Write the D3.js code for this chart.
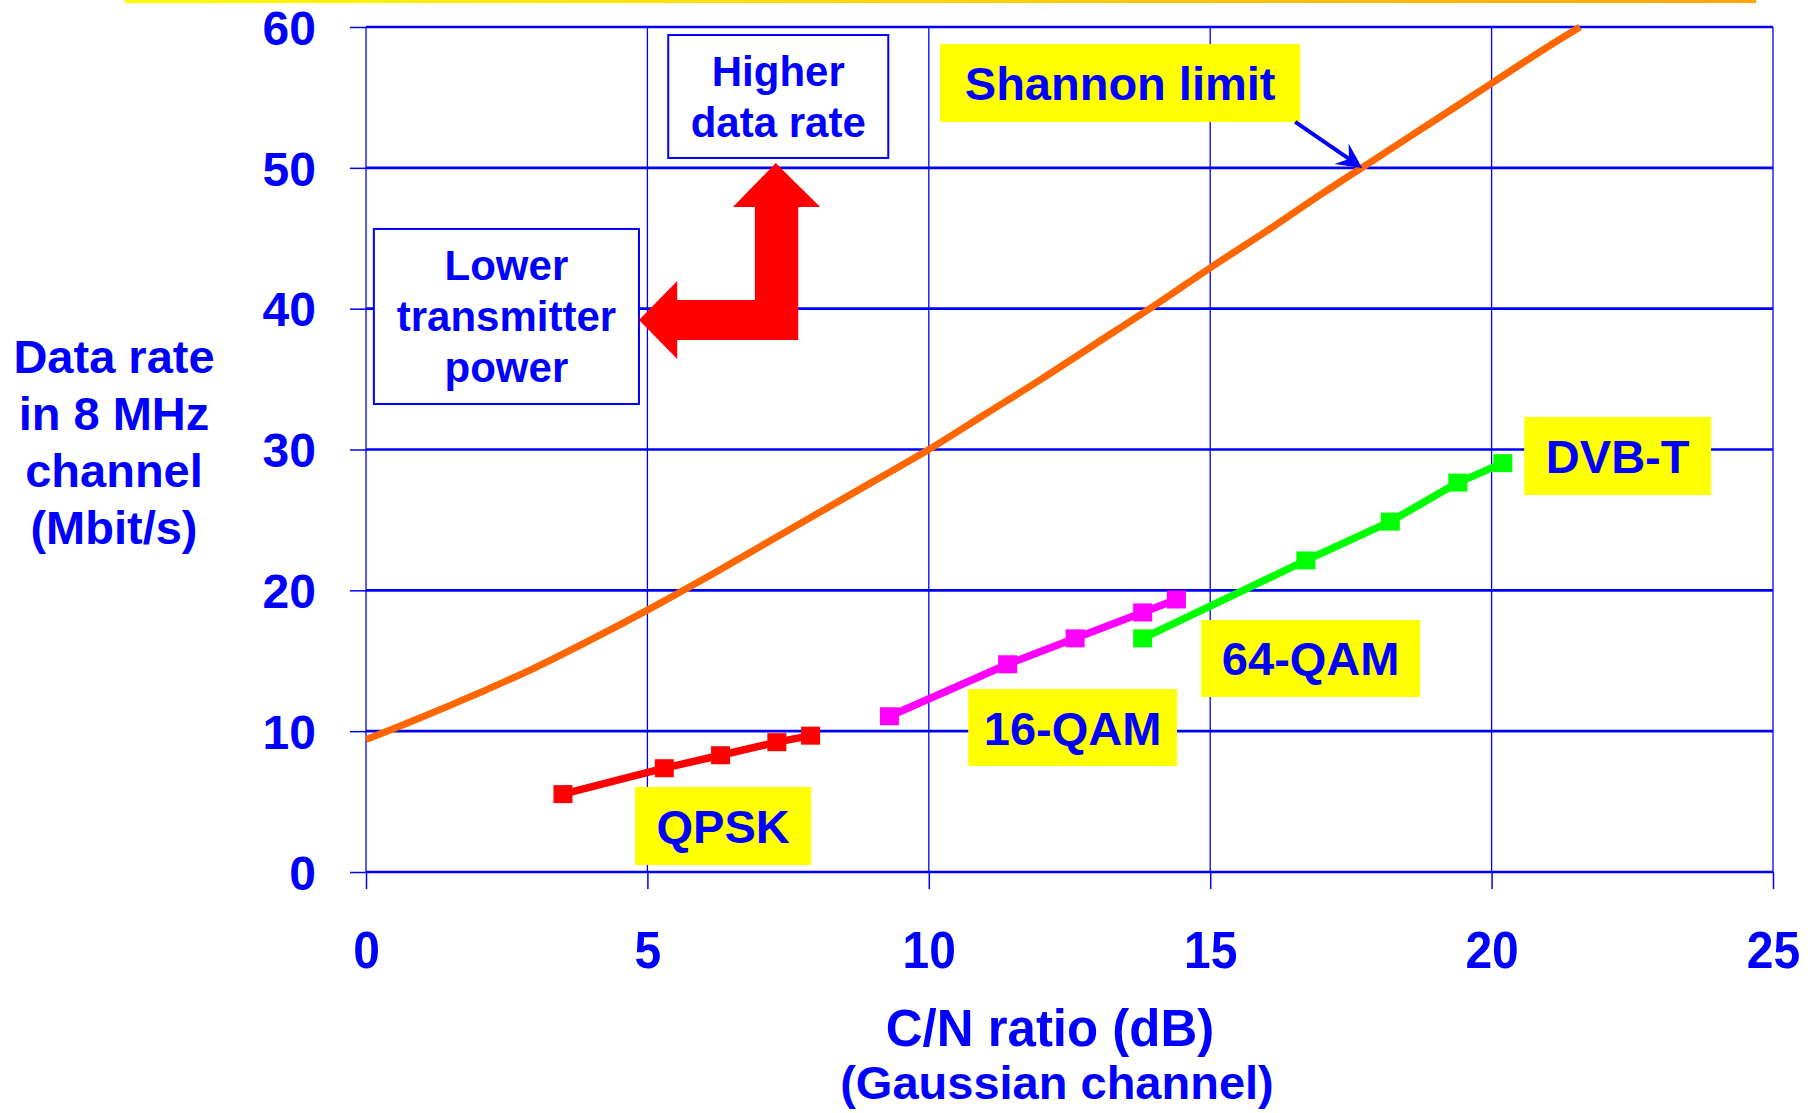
<!DOCTYPE html>
<html><head><meta charset="utf-8">
<script src="https://cdn.jsdelivr.net/npm/d3@7"></script>
<style>
html,body{margin:0;padding:0;background:#fff;}
svg{display:block;}
text{font-family:"Liberation Sans", Arial, Helvetica, sans-serif;font-weight:bold;fill:#0000ff;}
</style></head><body>
<svg id="chart" width="1817" height="1113"></svg>
<script>
// ---------- data ----------
const xTicks = [0, 5, 10, 15, 20, 25];
const yTicks = [0, 10, 20, 30, 40, 50, 60];
const shannonCN   = [0, 1, 2, 3, 4, 5, 6, 7, 8, 9, 10, 11, 12, 13, 14, 15, 16, 17, 18, 19, 20, 21, 21.57];
const shannonRate = [9.4, 11.0, 12.7, 14.5, 16.5, 18.6, 20.8, 23.1, 25.4, 27.7, 30.0, 32.5, 35.0, 37.6, 40.2, 42.9, 45.5, 48.2, 50.8, 53.4, 56.0, 58.6, 60.0];
const qpskCN    = [3.5, 5.3, 6.3, 7.3, 7.9];
const qpskRate  = [5.53, 7.37, 8.29, 9.22, 9.68];
const qam16CN   = [9.3, 11.4, 12.6, 13.8, 14.4];
const qam16Rate = [11.06, 14.75, 16.59, 18.43, 19.35];
const qam64CN   = [13.8, 16.7, 18.2, 19.4, 20.2];
const qam64Rate = [16.59, 22.12, 24.88, 27.65, 29.03];
const seriesNames = ["QPSK", "16-QAM", "64-QAM", "DVB-T"];
const curveName = "Shannon limit";
const yTitle = ["Data rate", "in 8 MHz", "channel", "(Mbit/s)"];
const xTitle = "C/N ratio (dB)";
const xSubtitle = "(Gaussian channel)";
const noteUp = ["Higher", "data rate"];
const noteLeft = ["Lower", "transmitter", "power"];

// ---------- layout ----------
const svg = d3.select("#chart");
const x = d3.scaleLinear().domain([0, 25]).range([366, 1773]);
const y = d3.scaleLinear().domain([0, 60]).range([872, 27]);
const BLUE = "#0000ff";

// top bar (yellow -> orange)
const defs = svg.append("defs");
const grad = defs.append("linearGradient").attr("id", "topbar").attr("x1", "0").attr("x2", "1");
grad.append("stop").attr("offset", "0").attr("stop-color", "#ffff00");
grad.append("stop").attr("offset", "1").attr("stop-color", "#ffa500");
svg.append("rect").attr("x", 125).attr("y", 0).attr("width", 1631).attr("height", 3).attr("fill", "url(#topbar)");

// gridlines
const grid = svg.append("g");
grid.selectAll(".hg").data(yTicks).join("line")
  .attr("x1", x(0)).attr("x2", x(25)).attr("y1", d => y(d)).attr("y2", d => y(d))
  .attr("stroke", BLUE).attr("stroke-width", 2.6);
grid.selectAll(".vg").data(xTicks).join("line")
  .attr("y1", y(60)).attr("y2", y(0)).attr("x1", d => x(d)).attr("x2", d => x(d))
  .attr("stroke", BLUE).attr("stroke-width", 1.3);

// axes
const yAxis = svg.append("g").attr("transform", `translate(${x(0)},0)`)
  .call(d3.axisLeft(y).tickValues(yTicks).tickSize(16).tickPadding(34).tickFormat(d3.format("d")));
const xAxis = svg.append("g").attr("transform", `translate(0,${y(0)})`)
  .call(d3.axisBottom(x).tickValues(xTicks).tickSize(17).tickFormat(d3.format("d")));
[yAxis, xAxis].forEach(g => {
  g.select(".domain").remove();
  g.selectAll(".tick line").attr("stroke", BLUE).attr("stroke-width", 1.5);
  g.selectAll("text").attr("fill", BLUE);
});
yAxis.selectAll("text").style("font-size", "48px").attr("dy", "0.36em");
xAxis.selectAll("text").style("font-size", "48px").attr("y", 89).attr("dy", 0).attr("transform", "scale(1,1.08)");

// Shannon curve
const line = d3.line().x(d => x(d[0])).y(d => y(d[1]));
svg.append("path").datum(d3.zip(shannonCN, shannonRate))
  .attr("d", line.curve(d3.curveMonotoneX)).attr("fill", "none")
  .attr("stroke", "#ff6600").attr("stroke-width", 7).attr("stroke-linecap", "butt");

// series
const series = [
  {cn: qpskCN, rate: qpskRate, color: "#ff0000"},
  {cn: qam16CN, rate: qam16Rate, color: "#ff00ff"},
  {cn: qam64CN, rate: qam64Rate, color: "#00ff00"}
];
const lin = d3.line().x(d => x(d[0])).y(d => y(d[1]));
series.forEach(s => {
  const pts = d3.zip(s.cn, s.rate);
  svg.append("path").datum(pts).attr("d", lin).attr("fill", "none")
    .attr("stroke", s.color).attr("stroke-width", 7.5).attr("stroke-linejoin", "round");
  svg.append("g").selectAll("rect").data(pts).join("rect")
    .attr("x", d => x(d[0]) - 9.5).attr("y", d => y(d[1]) - 9)
    .attr("width", 19).attr("height", 18).attr("fill", s.color);
});

// yellow labels (boxes in data units)
const labelBoxes = [
  {t: seriesNames[0], x0: 4.78, x1: 7.91, y0: 6.04, y1: 0.50},
  {t: seriesNames[1], x0: 10.70, x1: 14.41, y0: 12.99, y1: 7.53},
  {t: seriesNames[2], x0: 14.84, x1: 18.73, y0: 17.89, y1: 12.43},
  {t: seriesNames[3], x0: 20.58, x1: 23.90, y0: 32.31, y1: 26.77},
  {t: curveName, x0: 10.20, x1: 16.60, y0: 58.79, y1: 53.26}
];
const lb = svg.append("g").selectAll("g").data(labelBoxes).join("g");
lb.append("rect").attr("x", d => x(d.x0)).attr("y", d => y(d.y0))
  .attr("width", d => x(d.x1) - x(d.x0)).attr("height", d => y(d.y1) - y(d.y0)).attr("fill", "#ffff00");
lb.append("text").attr("x", d => (x(d.x0) + x(d.x1)) / 2)
  .attr("y", d => (y(d.y0) + y(d.y1)) / 2 + 17).attr("text-anchor", "middle")
  .style("font-size", "47px").text(d => d.t);

// Shannon pointer arrow
(function () {
  const s = [x(16.51), y(53.26)], t = [x(17.70), y(49.99)];
  const dx = t[0] - s[0], dy = t[1] - s[1], L = Math.hypot(dx, dy);
  const u = [dx / L, dy / L], n = [-u[1], u[0]];
  const back = 15;
  svg.append("line").attr("x1", s[0]).attr("y1", s[1])
    .attr("x2", t[0] - u[0] * back).attr("y2", t[1] - u[1] * back)
    .attr("stroke", BLUE).attr("stroke-width", 4);
  const p = (a, b) => [t[0] - u[0] * a + n[0] * b, t[1] - u[1] * a + n[1] * b];
  svg.append("path").attr("d", "M" + [t, p(25, 12.5), p(16, 0), p(25, -12.5)].map(q => q.join(",")).join("L") + "Z")
    .attr("fill", BLUE);
})();

// note boxes (white with blue border)
const notes = [
  {lines: noteUp, x0: 5.37, x1: 9.28, y0: 59.43, y1: 50.70},
  {lines: noteLeft, x0: 0.14, x1: 4.85, y0: 45.66, y1: 33.23}
];
notes.forEach(nb => {
  svg.append("rect").attr("x", x(nb.x0)).attr("y", y(nb.y0))
    .attr("width", x(nb.x1) - x(nb.x0)).attr("height", y(nb.y1) - y(nb.y0))
    .attr("fill", "#fff").attr("stroke", BLUE).attr("stroke-width", 2);
  const cx = (x(nb.x0) + x(nb.x1)) / 2;
  const top = y(nb.y0), h = y(nb.y1) - y(nb.y0);
  const n = nb.lines.length, lh = 51;
  const first = top + h / 2 - (n - 1) * lh / 2 + 15;
  nb.lines.forEach((l, i) => {
    svg.append("text").attr("x", cx).attr("y", first + i * lh)
      .attr("text-anchor", "middle").style("font-size", "42px").text(l);
  });
});

// red L-shaped double arrow (data units)
const arrowPts = [[7.28, 50.34], [8.07, 47.22], [7.68, 47.22], [7.68, 37.78], [5.53, 37.78], [5.53, 36.43],
  [4.85, 39.20], [5.53, 41.96], [5.53, 40.62], [6.91, 40.62], [6.91, 47.22], [6.52, 47.22]];
svg.append("path").attr("d", "M" + arrowPts.map(p => x(p[0]) + "," + y(p[1])).join("L") + "Z").attr("fill", "#ff0000");

// titles
svg.append("g").selectAll("text").data(yTitle).join("text")
  .attr("x", 114).attr("y", (d, i) => 373 + i * 57).attr("text-anchor", "middle")
  .style("font-size", "47px").text(d => d);
svg.append("text").attr("x", 1050).attr("y", 1046).attr("text-anchor", "middle")
  .style("font-size", "51px").text(xTitle);
svg.append("text").attr("x", 1057).attr("y", 1099).attr("text-anchor", "middle")
  .style("font-size", "47px").text(xSubtitle);
</script>
</body></html>
